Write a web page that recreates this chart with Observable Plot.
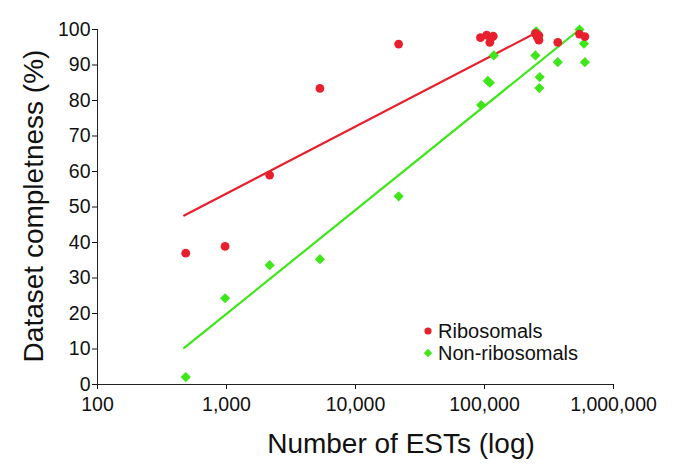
<!DOCTYPE html>
<html>
<head>
<meta charset="utf-8">
<script src="https://cdn.jsdelivr.net/npm/d3@7"></script>
<script src="https://cdn.jsdelivr.net/npm/@observablehq/plot@0.6"></script>
<style>
  html, body { margin: 0; padding: 0; background: #fff; }
  #wrap { position: relative; width: 685px; height: 470px; }
  #legend { position: absolute; left: 423px; top: 320px; font-family: "Liberation Sans", Arial, sans-serif; font-size: 20px; color: #111; line-height: 22px; }
  #legend div { display: flex; align-items: center; }
  #legend svg { margin-right: 5px; }
</style>
</head>
<body>
<div id="wrap"><div id="legend"></div></div>
<script>
// Tick values
const xTicks = [100, 1000, 10000, 100000, 1000000];
const yTicks = [0, 10, 20, 30, 40, 50, 60, 70, 80, 90, 100];

// Series names
const seriesNames = ["Ribosomals", "Non-ribosomals"];

// Ribosomals (red circles)
const riboX = [483, 975, 2160, 5300, 21600, 93000, 104000, 110000, 113000, 117000, 248000, 256000, 264000, 264000, 370000, 545000, 600000];
const riboY = [37.0, 38.9, 59.0, 83.4, 95.9, 97.7, 98.4, 96.4, 97.8, 98.1, 98.9, 97.9, 98.3, 97.0, 96.4, 98.7, 98.0];

// Non-ribosomals (green diamonds)
const nonX = [483, 975, 2160, 5300, 21600, 94200, 106000, 110000, 118000, 248000, 252000, 266000, 268000, 370000, 545000, 590000, 600000];
const nonY = [2.1, 24.3, 33.6, 35.3, 53.0, 78.7, 85.5, 85.0, 92.7, 92.7, 99.5, 83.5, 86.6, 90.8, 100.0, 96.0, 90.8];

// Trend lines (end points)
const riboTrendX = [470, 255000];
const riboTrendY = [47.6, 99.2];
const nonTrendX = [470, 545000];
const nonTrendY = [10.3, 100.0];

const red = "#e8202e";
const green = "#3ee61a";

const ribo = riboX.map((x, i) => ({x, y: riboY[i]}));
const non = nonX.map((x, i) => ({x, y: nonY[i]}));
const riboTrend = riboTrendX.map((x, i) => ({x, y: riboTrendY[i]}));
const nonTrend = nonTrendX.map((x, i) => ({x, y: nonTrendY[i]}));

const chart = Plot.plot({
  width: 685,
  height: 470,
  marginLeft: 97,
  marginRight: 72,
  marginTop: 29,
  marginBottom: 86,
  style: { fontFamily: "'Liberation Sans', Arial, sans-serif", fontSize: "19.5px", color: "#111", background: "#fff", overflow: "visible" },
  x: { type: "log", domain: [xTicks[0], xTicks[xTicks.length - 1]], ticks: xTicks, tickFormat: d3.format(","), label: null, tickSize: 5, tickPadding: 8 },
  y: { domain: [yTicks[0], yTicks[yTicks.length - 1]], ticks: yTicks, label: null, tickSize: 5, tickPadding: 2 },
  marks: [
    Plot.ruleY([yTicks[0]], { stroke: "#222" }),
    Plot.ruleX([xTicks[0]], { stroke: "#222" }),
    Plot.line(riboTrend, { x: "x", y: "y", stroke: red, strokeWidth: 2.2 }),
    Plot.line(nonTrend, { x: "x", y: "y", stroke: green, strokeWidth: 2.2 }),
    Plot.dot(non, { x: "x", y: "y", symbol: "diamond2", r: 4.6, fill: green, stroke: "none" }),
    Plot.dot(ribo, { x: "x", y: "y", symbol: "circle", r: 4.4, fill: red, stroke: "none" })
  ]
});

const svg = d3.select(chart);
svg.append("text")
  .attr("x", 401).attr("y", 453)
  .attr("text-anchor", "middle")
  .attr("font-size", 28)
  .attr("fill", "#111")
  .text("Number of ESTs (log)");
svg.append("text")
  .attr("transform", "translate(43,206) rotate(-90)")
  .attr("text-anchor", "middle")
  .attr("font-size", 28)
  .attr("fill", "#111")
  .text("Dataset completness (%)");

document.getElementById("wrap").prepend(chart);

// Legend
const legend = document.getElementById("legend");
const items = [
  { name: seriesNames[0], color: red, shape: "circle" },
  { name: seriesNames[1], color: green, shape: "diamond" }
];
for (const it of items) {
  const row = document.createElement("div");
  const icon = it.shape === "circle"
    ? `<svg width="10" height="10"><circle cx="5" cy="5" r="3.6" fill="${it.color}"/></svg>`
    : `<svg width="10" height="10"><path d="M5,0.8L9.2,5L5,9.2L0.8,5Z" fill="${it.color}"/></svg>`;
  row.innerHTML = icon + `<span>${it.name}</span>`;
  legend.appendChild(row);
}
</script>
</body>
</html>
